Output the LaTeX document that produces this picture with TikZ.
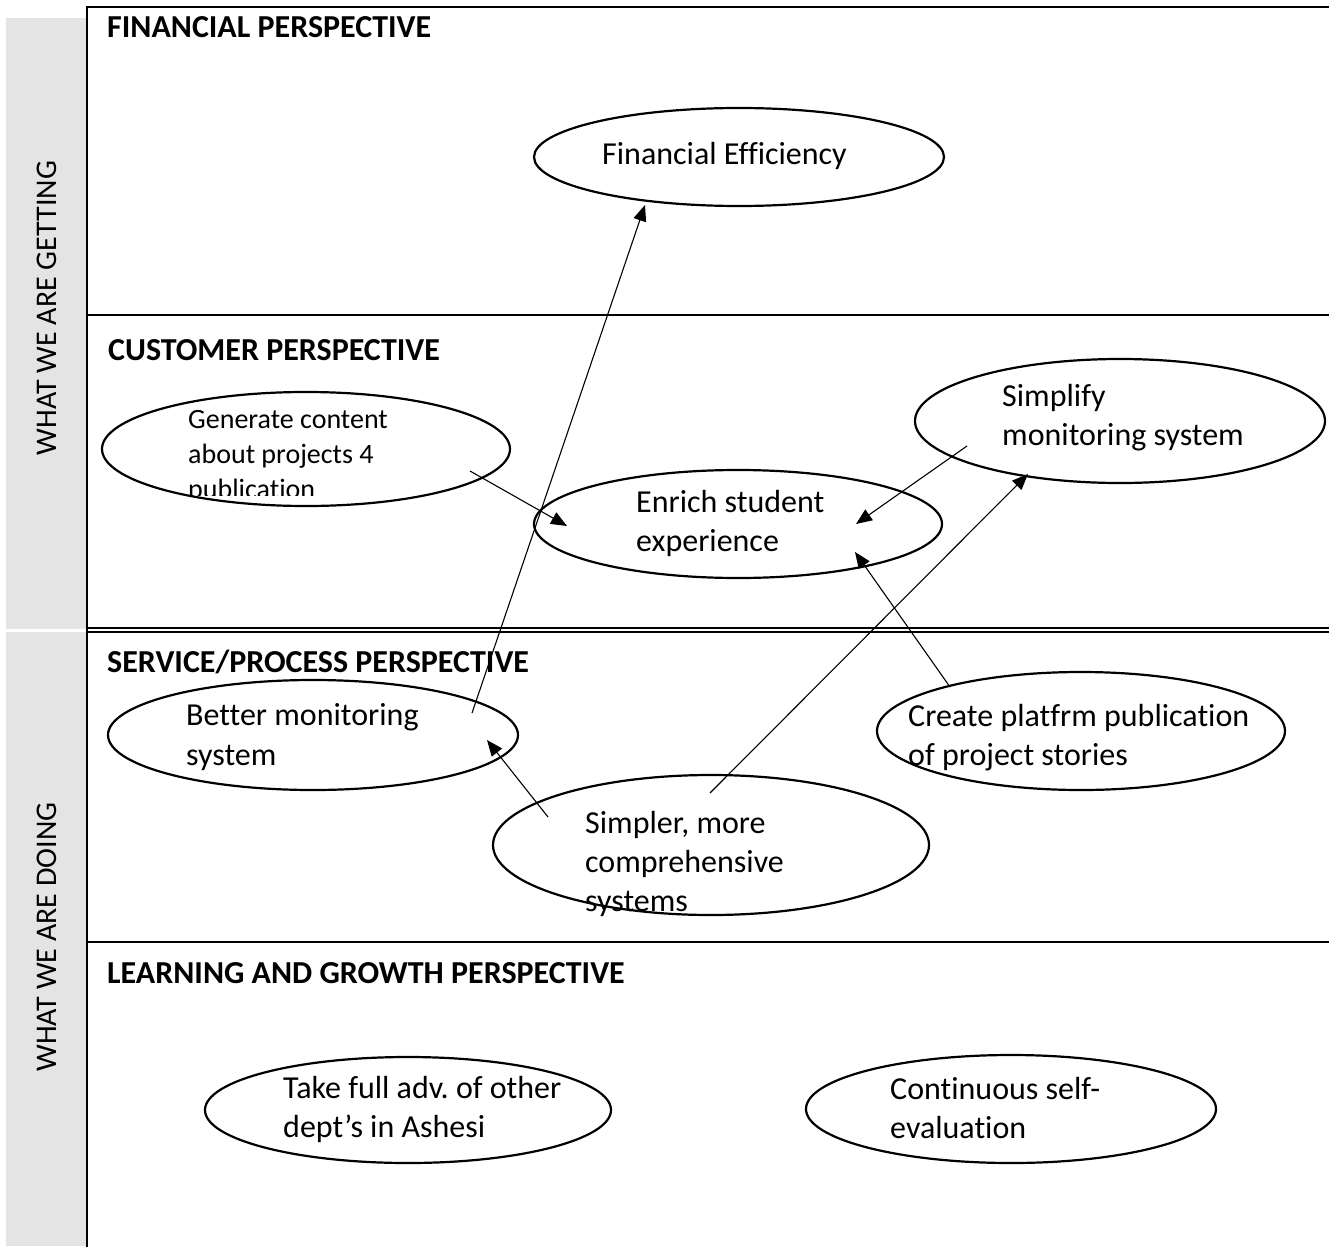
\documentclass[tikz,border=0pt]{standalone}
\usepackage{fontspec}
\setmainfont{Carlito}[Ligatures=NoCommon]
\usetikzlibrary{arrows.meta,shapes.geometric}
\definecolor{strip}{RGB}{228,228,228}
\frenchspacing
\begin{document}
\begin{tikzpicture}[x=1pt,y=-1pt,
  frameline/.style={line width=1.6pt},
  oval/.style={draw,ellipse,line width=2.2pt,inner sep=0pt},
  lbl/.style={anchor=base west,inner sep=0pt,font=\fontsize{32}{38}\selectfont},
  small/.style={anchor=base west,inner sep=0pt,font=\fontsize{28}{34}\selectfont},
  head/.style={anchor=base west,inner sep=0pt,font=\fontsize{32}{38}\selectfont\bfseries},
  side/.style={rotate=90,inner sep=0pt,font=\fontsize{30}{36}\selectfont},
  link/.style={line width=1.1pt,-{Triangle[length=16pt,width=13pt]}}]
\useasboundingbox (0,0) rectangle (1329,1249);
% side strips
\fill[strip] (6,18) rectangle (86,629);
\fill[strip] (6,632) rectangle (86,1246);
\node[side] (getting) at (47,308) {WHAT WE ARE GETTING};
\node[side] (doing) at (47,937) {WHAT WE ARE DOING};
% frame
\draw[line width=2.2pt] (86,7) -- (1329,7);
\draw[frameline] (87,7) -- (87,1247);
\draw[frameline] (87,315) -- (1329,315);
\draw[line width=2pt] (87,628.3) -- (1329,628.3);
\draw[line width=2pt] (87,631.6) -- (1329,631.6);
\draw[frameline] (87,942) -- (1329,942);
% headings
\node[head] (h1) at (107,38) {FINANCIAL PERSPECTIVE};
\node[head] (h2) at (108,360) {CUSTOMER PERSPECTIVE};
\node[head] (h3) at (107,672) {SERVICE/PROCESS PERSPECTIVE};
\node[head] (h4) at (107,983) {LEARNING AND GROWTH PERSPECTIVE};
% ellipses
\node[oval,minimum width=410pt,minimum height=98pt] (fe) at (739,157) {};
\node[oval,minimum width=408pt,minimum height=114pt] (gc) at (306,449) {};
\node[oval,minimum width=408pt,minimum height=108pt] (es) at (738,524) {};
\node[oval,minimum width=410pt,minimum height=124pt] (sm) at (1120,421) {};
\node[oval,minimum width=410pt,minimum height=110pt] (bm) at (313,735) {};
\node[oval,minimum width=408pt,minimum height=118pt] (cp) at (1081,731) {};
\node[oval,minimum width=436pt,minimum height=140pt] (ss) at (711,845) {};
\node[oval,minimum width=406pt,minimum height=106pt] (tf) at (408,1110) {};
\node[oval,minimum width=410pt,minimum height=108pt] (cs) at (1011,1109) {};
% ellipse texts
\node[lbl] (fe1) at (602,165) {Financial Efficiency};
\node[small] (gc1) at (188,428) {Generate content};
\node[small] (gc2) at (188,463) {about projects 4};
\begin{scope}
\clip (100,470) rectangle (520,495);
\node[small] (gc3) at (188,498) {publication};
\end{scope}
\node[lbl] (es1) at (636,512) {Enrich student};
\node[lbl] (es2) at (636,551) {experience};
\node[lbl] (sm1) at (1002,406) {Simplify};
\node[lbl] (sm2) at (1002,445) {monitoring system};
\node[lbl] (bm1) at (186,725) {Better monitoring};
\node[lbl] (bm2) at (186,765) {system};
\node[lbl] (cp1) at (908,726) {Create platfrm publication};
\node[lbl] (cp2) at (908,765) {of project stories};
\node[lbl] (ss1) at (585,833) {Simpler, more};
\node[lbl] (ss2) at (585,872) {comprehensive};
\node[lbl] (ss3) at (585,911) {systems};
\node[lbl] (tf1) at (283,1098) {Take full adv. of other};
\node[lbl] (tf2) at (283,1137) {dept’s in Ashesi};
\node[lbl] (cs1) at (890,1099) {Continuous self-};
\node[lbl] (cs2) at (890,1138) {evaluation};
% connector ends
\coordinate (bm-fe) at (472,713);
\coordinate (fe-in) at (645,205);
\coordinate (gc-es) at (470,471);
\coordinate (es-in1) at (567,526);
\coordinate (sm-es) at (967,446);
\coordinate (es-in2) at (856,524);
\coordinate (ss-sm) at (710,793);
\coordinate (sm-in) at (1028,474);
\coordinate (cp-es) at (950,687);
\coordinate (es-in3) at (855,552);
\coordinate (ss-bm) at (548,817);
\coordinate (bm-in) at (487,740);
\draw[link] (bm-fe) -- (fe-in);
\draw[link] (gc-es) -- (es-in1);
\draw[link] (sm-es) -- (es-in2);
\draw[link] (ss-sm) -- (sm-in);
\draw[link] (cp-es) -- (es-in3);
\draw[link] (ss-bm) -- (bm-in);
\end{tikzpicture}
\end{document}
